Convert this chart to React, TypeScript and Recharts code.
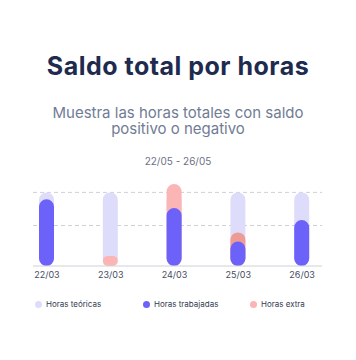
import { BarChart, Bar, XAxis, YAxis, CartesianGrid, Cell } from "recharts";

const days = ["22/03", "23/03", "24/03", "25/03", "26/03"];
const horasTeoricas = [8, 8, 8, 8, 8];
const horasTrabajadas = [7.25, 0, 6.3, 2.65, 5.0];
// extra bars are drawn from zero behind the worked bar, so this is the total reached
const horasExtra = [0, 1.1, 8.9, 3.65, 0];
const extraNegative = [false, false, false, true, false];
const gridValues = [4.4, 8];

const FONT = "Inter, 'Noto Sans', sans-serif";
const C = {
  teo: "#dedcfb",
  work: "#6c62fa",
  extra: "#fbb5b5",
  extraNeg: "#ee9b94",
  title: "#1e2b4f",
  sub: "#717c94",
  date: "#6b7285",
  tick: "#454c63",
  grid: "#cfd1d8",
};

const legend = [
  { name: "Horas teóricas", color: C.teo, x: 35 },
  { name: "Horas trabajadas", color: C.work, x: 143 },
  { name: "Horas extra", color: C.extra, x: 250 },
];

const data = days.map((d, i) => ({
  day: d,
  teo: horasTeoricas[i],
  work: horasTrabajadas[i],
  extra: horasExtra[i],
}));

export default function App() {
  return (
    <div style={{ position: "absolute", left: 0, top: 0, width: 356, height: 360, background: "#fff", fontFamily: FONT }}>
      <div style={{ position: "absolute", top: 54, left: 0, width: 356, textAlign: "center", fontSize: 25, lineHeight: "25px", fontWeight: 700, letterSpacing: 0.5, color: C.title }}>
        Saldo total por horas
      </div>
      <div style={{ position: "absolute", top: 105, left: 40, width: 276, textAlign: "center", fontSize: 15, lineHeight: "16px", color: C.sub }}>
        Muestra las horas totales con saldo positivo o negativo
      </div>
      <div style={{ position: "absolute", top: 154.5, left: 0, width: 356, textAlign: "center", fontSize: 10, lineHeight: "12px", color: C.date }}>
        22/05 - 26/05
      </div>
      <div style={{ position: "absolute", top: 170, left: 0 }}>
        <BarChart width={356} height={120} data={data} margin={{ top: 4, right: 34, bottom: 0, left: 33 }} barSize={15} barGap={-15}>
          <CartesianGrid horizontal vertical={false} horizontalValues={gridValues} stroke={C.grid} strokeDasharray="4 3" />
          <XAxis
            dataKey="day"
            height={24}
            padding={{ left: -18, right: -12 }}
            tickLine={false}
            tickSize={0}
            tickMargin={6}
            axisLine={{ stroke: C.grid }}
            tick={{ fontSize: 9, fill: C.tick, fontFamily: FONT }}
            interval={0}
          />
          <YAxis hide domain={[0, 10]} />
          <Bar dataKey="teo" fill={C.teo} radius={7.5} isAnimationActive={false} />
          <Bar dataKey="extra" fill={C.extra} radius={7.5} isAnimationActive={false}>
            {data.map((d, i) => (
              <Cell key={d.day} fill={extraNegative[i] ? C.extraNeg : C.extra} />
            ))}
          </Bar>
          <Bar dataKey="work" fill={C.work} radius={7.5} isAnimationActive={false} />
        </BarChart>
      </div>
      {legend.map((l) => (
        <div key={l.name} style={{ position: "absolute", top: 298, left: l.x, display: "flex", alignItems: "center", fontSize: 8, lineHeight: "12px", color: "#343c52" }}>
          <span style={{ width: 7, height: 7, borderRadius: "50%", background: l.color, marginRight: 4, display: "inline-block" }} />
          {l.name}
        </div>
      ))}
    </div>
  );
}
